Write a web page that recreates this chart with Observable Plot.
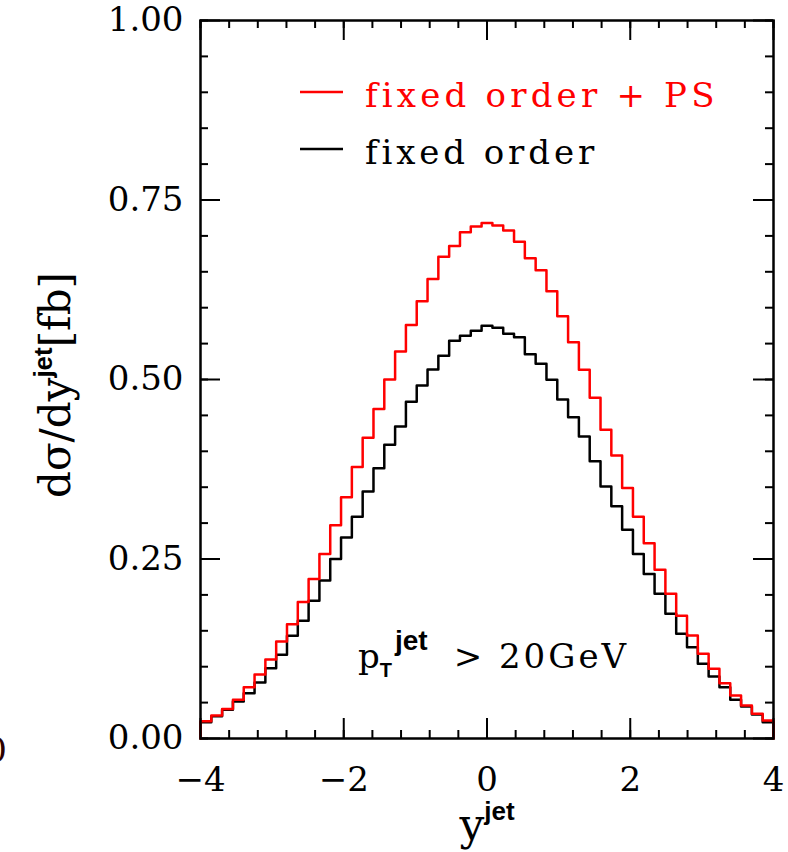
<!DOCTYPE html>
<html>
<head>
<meta charset="utf-8">
<script src="https://cdn.jsdelivr.net/npm/d3@7"></script>
<script src="https://cdn.jsdelivr.net/npm/@observablehq/plot@0.6"></script>
<style>
  html, body { margin: 0; padding: 0; background: #fff; }
  #chart svg { display: block; }
</style>
</head>
<body>
<div id="chart"></div>
<script>
// ---- data ----
const yjetRange = [-4, 4];
const binCount = 53;
const fixedOrderPS = [
  0.024, 0.032, 0.041, 0.054, 0.0715, 0.089, 0.110, 0.135, 0.159, 0.190,
  0.222, 0.257, 0.297, 0.336, 0.378, 0.419, 0.459, 0.500, 0.539, 0.576,
  0.609, 0.640, 0.671, 0.686, 0.705, 0.713, 0.718, 0.7145, 0.7075, 0.692,
  0.669, 0.652, 0.623, 0.588, 0.552, 0.5135, 0.4745, 0.430, 0.394, 0.349,
  0.309, 0.272, 0.235, 0.2015, 0.171, 0.1435, 0.118, 0.097, 0.077, 0.060,
  0.046, 0.0344, 0.025
];
const fixedOrder = [
  0.0227, 0.031, 0.040, 0.0515, 0.063, 0.078, 0.098, 0.1165, 0.143, 0.164,
  0.192, 0.220, 0.250, 0.280, 0.309, 0.344, 0.3765, 0.409, 0.4345, 0.469,
  0.4916, 0.514, 0.533, 0.554, 0.561, 0.568, 0.575, 0.572, 0.5636, 0.559,
  0.535, 0.522, 0.4996, 0.472, 0.4475, 0.4206, 0.386, 0.351, 0.3235, 0.2906,
  0.257, 0.229, 0.2015, 0.1737, 0.1458, 0.127, 0.104, 0.0864, 0.0715, 0.054,
  0.0446, 0.0334, 0.0227
];
const seriesNames = ["fixed order + PS", "fixed order"];
const seriesColors = ["#ff0000", "#000000"];
const xTickLabels = [-4, -2, 0, 2, 4];
const yTickLabels = [0, 0.25, 0.5, 0.75, 1];
const xMinorTicks = d3.range(-4, 4.0001, 0.4);
const yMinorTicks = d3.range(0, 1.0001, 0.05);
const cutLabel = "p";

// ---- build step outlines ----
const edges = d3.range(binCount + 1).map(i => yjetRange[0] + i * (yjetRange[1] - yjetRange[0]) / binCount);
function outline(values, name) {
  const pts = [{x: edges[0], y: 0, s: name}];
  values.forEach((v, i) => pts.push({x: edges[i], y: v, s: name}));
  pts.push({x: edges[binCount], y: values[binCount - 1], s: name});
  pts.push({x: edges[binCount], y: 0, s: name});
  return pts;
}
const lineBlack = outline(fixedOrder, seriesNames[1]);
const lineRed = outline(fixedOrderPS, seriesNames[0]);

// ---- layout ----
const W = 788, H = 852;
const mL = 200, mR = 15, mT = 20, mB = 114;
const pw = W - mL - mR, ph = H - mT - mB;
const minorLen = 8, majorLen = 20;
const serif = "DejaVu Serif";
const sans = "Liberation Sans";

const chart = Plot.plot({
  width: W, height: H,
  marginLeft: mL, marginRight: mR, marginTop: mT, marginBottom: mB,
  style: {fontFamily: serif, fontSize: "34px", color: "#000", background: "#fff"},
  x: {domain: yjetRange},
  y: {domain: [0, 1]},
  marks: [
    // minor & major ticks, all four sides, pointing inward
    Plot.tickX(xMinorTicks, {x: d => d, insetTop: ph - minorLen, strokeWidth: 2}),
    Plot.tickX(xMinorTicks, {x: d => d, insetBottom: ph - minorLen, strokeWidth: 2}),
    Plot.tickX(xTickLabels, {x: d => d, insetTop: ph - majorLen, strokeWidth: 2}),
    Plot.tickX(xTickLabels, {x: d => d, insetBottom: ph - majorLen, strokeWidth: 2}),
    Plot.tickY(yMinorTicks, {y: d => d, insetRight: pw - minorLen, strokeWidth: 2}),
    Plot.tickY(yMinorTicks, {y: d => d, insetLeft: pw - minorLen, strokeWidth: 2}),
    Plot.tickY(yTickLabels, {y: d => d, insetRight: pw - majorLen, strokeWidth: 2}),
    Plot.tickY(yTickLabels, {y: d => d, insetLeft: pw - majorLen, strokeWidth: 2}),
    Plot.line(lineBlack, {x: "x", y: "y", curve: "step-after", stroke: seriesColors[1], strokeWidth: 2.5}),
    Plot.line(lineRed, {x: "x", y: "y", curve: "step-after", stroke: seriesColors[0], strokeWidth: 2.5}),
    Plot.frame({stroke: "#000", strokeWidth: 2.5}),
    Plot.axisY(yTickLabels, {anchor: "left", tickSize: 0, tickPadding: 17, tickFormat: d3.format(".2f"), fontSize: 34, fontFamily: serif, label: null}),
    Plot.axisX(xTickLabels, {anchor: "bottom", tickSize: 0, tickPadding: 28, fontSize: 34, fontFamily: serif, label: null})
  ]
});
document.getElementById("chart").appendChild(chart);

// ---- extra text: labels, legend, annotation ----
const svg = d3.select(chart);
const g = svg.append("g").attr("text-anchor", "start");

// legend
const legendRows = [
  {name: seriesNames[0], color: seriesColors[0], ly: 92, ty: 107, ls: 4.2},
  {name: seriesNames[1], color: seriesColors[1], ly: 149, ty: 164, ls: 3.9}
];
legendRows.forEach(r => {
  g.append("line").attr("x1", 300).attr("x2", 343).attr("y1", r.ly).attr("y2", r.ly)
    .attr("stroke", r.color).attr("stroke-width", 2.5);
  g.append("text").attr("x", 365).attr("y", r.ty).attr("fill", r.color)
    .attr("text-anchor", "start")
    .attr("font-family", serif).attr("font-size", 34).attr("letter-spacing", r.ls)
    .text(r.name);
});

// y-axis label
const yl = g.append("text")
  .attr("transform", "translate(70,385) rotate(-90)")
  .attr("text-anchor", "middle").attr("font-family", serif).attr("font-size", 42).attr("fill", "#000");
yl.append("tspan").text("dσ/dy");
yl.append("tspan").attr("font-family", sans).attr("font-weight", "bold").attr("font-size", 26).attr("dy", -18).text("jet");
yl.append("tspan").attr("dy", 18).text("[fb]");

// x-axis label
const xl = g.append("text")
  .attr("x", 487).attr("y", 840)
  .attr("text-anchor", "middle").attr("font-family", serif).attr("font-size", 44).attr("fill", "#000");
xl.append("tspan").text("y");
xl.append("tspan").attr("font-family", sans).attr("font-weight", "bold").attr("font-size", 26).attr("dy", -20).text("jet");

// annotation
const an = g.append("text").attr("x", 358).attr("y", 668).attr("text-anchor", "start")
  .attr("font-family", serif).attr("font-size", 34).attr("fill", "#000");
an.append("tspan").text(cutLabel);
an.append("tspan").attr("font-family", sans).attr("font-weight", "bold").attr("font-size", 20).attr("dy", 9).text("T");
an.append("tspan").attr("font-family", sans).attr("font-weight", "bold").attr("font-size", 28).attr("dy", -27).attr("dx", 3).text("jet");
an.append("tspan").attr("dy", 18).attr("dx", 26).attr("letter-spacing", 3).text("> 20GeV");

// fragment of a neighbouring panel's label at the left edge
g.append("text").attr("x", 7).attr("y", 762).attr("text-anchor", "end")
  .attr("font-family", serif).attr("font-size", 34).attr("fill", "#2a0000").text("0");
</script>
</body>
</html>
